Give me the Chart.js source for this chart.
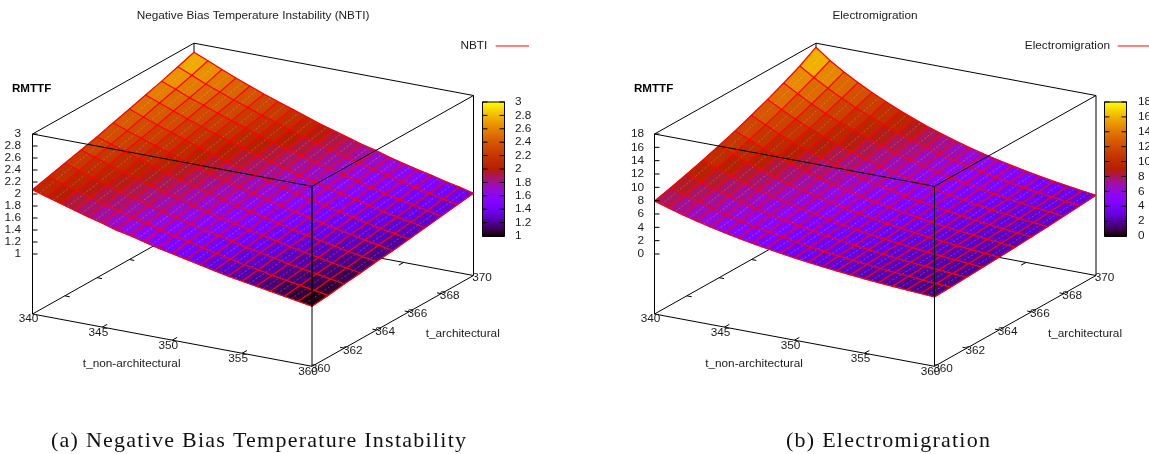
<!DOCTYPE html>
<html>
<head>
<meta charset="utf-8">
<title>RMTTF surfaces</title>
<script src="https://cdn.jsdelivr.net/npm/chart.js@4"></script>
<style>
  html, body { margin: 0; padding: 0; background: #fff; }
  canvas { display: block; }
</style>
</head>
<body>
<canvas id="chart_surfaces" width="1149" height="454"></canvas>
<script>
const tNonArch = [340,341,342,343,344,345,346,347,348,349,350,351,352,353,354,355,356,357,358,359,360];
const tArch = [360,361,362,363,364,365,366,367,368,369,370];

const nonArchTicks = [340,345,350,355,360];
const archTicks = [360,362,364,366,368,370];
const nbtiTicks = ["1","1.2","1.4","1.6","1.8","2","2.2","2.4","2.6","2.8","3"];
const emTicks = ["0","2","4","6","8","10","12","14","16","18"];

// one row per t_architectural, one column per t_non-architectural
const nbtiValues = [
  [2.07,2.00,1.93,1.86,1.79,1.73,1.66,1.61,1.55,1.49,1.44,1.39,1.34,1.29,1.24,1.20,1.16,1.12,1.08,1.04,1.00],
  [2.14,2.06,1.99,1.92,1.85,1.78,1.72,1.66,1.60,1.54,1.49,1.43,1.38,1.33,1.28,1.24,1.19,1.15,1.11,1.07,1.03],
  [2.21,2.13,2.05,1.98,1.91,1.84,1.77,1.71,1.65,1.59,1.53,1.48,1.43,1.37,1.33,1.28,1.23,1.19,1.15,1.11,1.07],
  [2.28,2.20,2.12,2.04,1.97,1.90,1.83,1.77,1.70,1.64,1.58,1.53,1.47,1.42,1.37,1.32,1.27,1.23,1.18,1.14,1.10],
  [2.35,2.27,2.19,2.11,2.03,1.96,1.89,1.82,1.76,1.69,1.63,1.58,1.52,1.47,1.41,1.36,1.31,1.27,1.22,1.18,1.14],
  [2.43,2.34,2.26,2.18,2.10,2.02,1.95,1.88,1.81,1.75,1.69,1.63,1.57,1.51,1.46,1.41,1.36,1.31,1.26,1.22,1.17],
  [2.51,2.42,2.33,2.25,2.17,2.09,2.01,1.94,1.87,1.81,1.74,1.68,1.62,1.56,1.51,1.45,1.40,1.35,1.30,1.26,1.21],
  [2.59,2.50,2.41,2.32,2.24,2.16,2.08,2.01,1.93,1.87,1.80,1.73,1.67,1.61,1.56,1.50,1.45,1.39,1.34,1.30,1.25],
  [2.67,2.58,2.48,2.40,2.31,2.23,2.15,2.07,2.00,1.93,1.86,1.79,1.73,1.67,1.61,1.55,1.49,1.44,1.39,1.34,1.29],
  [2.76,2.66,2.56,2.47,2.38,2.30,2.21,2.14,2.06,1.99,1.92,1.85,1.78,1.72,1.66,1.60,1.54,1.49,1.43,1.38,1.33],
  [2.85,2.75,2.65,2.55,2.46,2.37,2.29,2.21,2.13,2.05,1.98,1.91,1.84,1.78,1.71,1.65,1.59,1.54,1.48,1.43,1.37]
];

const emValues = [
  [7.94,7.28,6.67,6.12,5.61,5.15,4.72,4.33,3.97,3.64,3.33,3.06,2.80,2.57,2.36,2.16,1.98,1.82,1.67,1.53,1.40],
  [8.58,7.87,7.21,6.61,6.06,5.56,5.10,4.68,4.29,3.93,3.60,3.31,3.03,2.78,2.55,2.33,2.14,1.97,1.80,1.65,1.51],
  [9.27,8.50,7.79,7.15,6.55,6.01,5.51,5.06,4.63,4.25,3.89,3.57,3.27,3.00,2.76,2.52,2.31,2.12,1.95,1.79,1.63],
  [10.02,9.18,8.41,7.72,7.08,6.50,5.95,5.46,5.01,4.59,4.20,3.86,3.53,3.24,2.98,2.72,2.50,2.30,2.11,1.93,1.77],
  [10.82,9.92,9.09,8.34,7.65,7.02,6.43,5.90,5.41,4.96,4.54,4.17,3.82,3.50,3.22,2.94,2.70,2.48,2.28,2.09,1.91],
  [11.69,10.72,9.82,9.01,8.26,7.58,6.95,6.38,5.85,5.36,4.90,4.51,4.12,3.79,3.48,3.18,2.92,2.68,2.46,2.25,2.06],
  [12.64,11.59,10.61,9.74,8.93,8.20,7.51,6.89,6.32,5.79,5.30,4.87,4.46,4.09,3.76,3.44,3.15,2.90,2.66,2.43,2.23],
  [13.65,12.52,11.47,10.52,9.65,8.86,8.12,7.45,6.83,6.26,5.73,5.26,4.81,4.42,4.06,3.71,3.40,3.13,2.87,2.63,2.41],
  [14.75,13.53,12.39,11.37,10.42,9.57,8.77,8.04,7.38,6.76,6.19,5.69,5.20,4.77,4.38,4.01,3.68,3.38,3.10,2.84,2.60],
  [15.94,14.61,13.39,12.29,11.26,10.34,9.48,8.69,7.97,7.31,6.69,6.14,5.62,5.16,4.74,4.34,3.97,3.65,3.35,3.07,2.81],
  [17.40,15.80,14.47,13.28,12.17,11.18,10.24,9.40,8.61,7.90,7.23,6.64,6.08,5.58,5.12,4.69,4.30,3.95,3.62,3.32,3.04]
];

const SANS = '11.8px "Liberation Sans"';
const SANS_BOLD = 'bold 11.6px "Liberation Sans"';
const TEXT_COLOR = '#1c1c1c';

// corner positions of each gnuplot box, in canvas pixels
const panels = [
  {
    title: 'Negative Bias Temperature Instability (NBTI)', titleX: 253,
    legend: 'NBTI', legendRight: 487.3, legendLine: [495.7, 529],
    caption: '(a) Negative Bias Temperature Instability', captionX: 51,
    values: nbtiValues, ticks: nbtiTicks, zMin: 1, zMax: 3,
    a: [32.5, 314], f: [312, 366.3], r: [473.5, 275.5],
    tickRight: 21, zLabelX: 12, bar: [482.5, 504.5], barLabelX: 515,
    xTitle: [131.7, 363.3], yTitle: [462.7, 334]
  },
  {
    title: 'Electromigration', titleX: 875,
    legend: 'Electromigration', legendRight: 1110, legendLine: [1117.7, 1149],
    caption: '(b) Electromigration', captionX: 786,
    values: emValues, ticks: emTicks, zMin: 0, zMax: 18,
    a: [654.5, 314], f: [934.5, 366.3], r: [1096, 275.5],
    tickRight: 644, zLabelX: 634, bar: [1104.5, 1126.5], barLabelX: 1138,
    xTitle: [754, 363.3], yTitle: [1085, 334]
  }
];

const BOX_LIFT = 60;
const BOX_HEIGHT = 120;
const BAR_TOP = 102;
const BAR_BOTTOM = 236;

function project(panel, x, y, z){
  const t = (x - 340) / 20;
  const s = (y - 360) / 10;
  const px = panel.a[0] + t * (panel.f[0] - panel.a[0]) + s * (panel.r[0] - panel.f[0]);
  const py = panel.a[1] + t * (panel.f[1] - panel.a[1]) + s * (panel.r[1] - panel.f[1]);
  const rise = BOX_LIFT + (z - panel.zMin) / (panel.zMax - panel.zMin) * BOX_HEIGHT;
  return {x: px, y: py - rise};
}

function base(panel, x, y){
  const p = project(panel, x, y, panel.zMin);
  return {x: p.x, y: p.y + BOX_LIFT};
}

// gnuplot default pm3d palette, rgbformulae 7,5,15
function palette(gray){
  const g = Math.max(0, Math.min(1, gray));
  const r = Math.round(255 * Math.sqrt(g));
  const gr = Math.round(255 * g * g * g);
  const b = Math.round(255 * Math.max(0, Math.sin(2 * Math.PI * g)));
  return "rgb(" + r + "," + gr + "," + b + ")";
}

function lineSet(points, color, width, dash){
  return {
    data: points,
    showLine: true,
    borderColor: color,
    borderWidth: width === undefined ? 1 : width,
    borderDash: dash || [],
    pointRadius: 0,
    tension: 0,
    fill: false
  };
}

function polySet(points, color){
  return {
    data: points.concat([points[0]]),
    showLine: true,
    borderWidth: 0.6,
    borderColor: color,
    backgroundColor: color,
    pointRadius: 0,
    tension: 0,
    fill: 'shape'
  };
}

function panelSets(panel){
  const sets = [];
  const grid = panel.values;
  const black = '#000000';
  const wire = '#ff0000';
  const baseA = base(panel, 340, 360);
  const baseB = base(panel, 340, 370);
  const baseF = base(panel, 360, 360);
  const baseR = base(panel, 360, 370);
  const up = (p) => ({x: p.x, y: p.y - BOX_LIFT - BOX_HEIGHT});

  // back of the box, the surface hides most of it
  sets.push(lineSet([baseA, baseB, baseR], black));
  sets.push(lineSet([baseB, up(baseB)], black));
  sets.push(lineSet([baseR, up(baseR)], black));

  // mirror tics on the back edges
  archTicks.slice(1, -1).forEach((t) => {
    sets.push(lineSet([base(panel, 340, t), base(panel, 340.35, t)], black));
  });
  nonArchTicks.slice(1, -1).forEach((t) => {
    sets.push(lineSet([base(panel, t, 370), base(panel, t, 369.7)], black));
  });

  // surface cells
  for(let j = tArch.length - 2; j >= 0; j--){
    for(let i = 0; i < tNonArch.length - 1; i++){
      const z00 = grid[j][i], z10 = grid[j][i + 1];
      const z01 = grid[j + 1][i], z11 = grid[j + 1][i + 1];
      const mean = (z00 + z10 + z01 + z11) / 4;
      sets.push(polySet([
        project(panel, tNonArch[i], tArch[j], z00),
        project(panel, tNonArch[i + 1], tArch[j], z10),
        project(panel, tNonArch[i + 1], tArch[j + 1], z11),
        project(panel, tNonArch[i], tArch[j + 1], z01)
      ], palette((mean - panel.zMin) / (panel.zMax - panel.zMin))));
    }
  }

  // the pale seam the png shows in the middle of each column
  for(let i = 0; i < tNonArch.length - 1; i++){
    const seam = tArch.map((y, j) => project(panel, (tNonArch[i] + tNonArch[i + 1]) / 2, y, (grid[j][i] + grid[j][i + 1]) / 2));
    sets.push(lineSet(seam, 'rgba(255,225,225,0.35)', 0.8, [2, 2]));
  }

  // red wire lines
  tArch.forEach((y, j) => {
    sets.push(lineSet(tNonArch.map((x, i) => project(panel, x, y, grid[j][i])), wire, 1.2));
  });
  tNonArch.forEach((x, i) => {
    sets.push(lineSet(tArch.map((y, j) => project(panel, x, y, grid[j][i])), wire, 1.2));
  });

  // front of the box, the part over the surface gets stroked twice
  sets.push(lineSet([baseA, baseF, baseR], black));
  sets.push(lineSet([baseA, up(baseA)], black));
  sets.push(lineSet([baseF, up(baseF)], black));
  sets.push(lineSet([project(panel, 360, 360, grid[0][20]), up(baseF)], black));
  sets.push(lineSet([up(baseA), up(baseB), up(baseR), up(baseF), up(baseA)], black));

  nonArchTicks.slice(1, -1).forEach((t) => {
    sets.push(lineSet([base(panel, t, 360), base(panel, t, 360.3)], black));
  });
  archTicks.slice(1, -1).forEach((t) => {
    sets.push(lineSet([base(panel, 360, t), base(panel, 359.7, t)], black));
  });
  panel.ticks.forEach((text) => {
    const p = project(panel, 340, 360, parseFloat(text));
    sets.push(lineSet([p, {x: p.x + 5, y: p.y}], black));
  });

  // key sample
  sets.push(lineSet([{x: panel.legendLine[0], y: 46}, {x: panel.legendLine[1], y: 46}], wire));
  return sets;
}

function label(ctx, text, x, y, align, font, color){
  ctx.font = font || SANS;
  ctx.fillStyle = color || TEXT_COLOR;
  ctx.textAlign = align || 'center';
  ctx.textBaseline = 'middle';
  ctx.fillText(text, x, y);
}

const panelText = {
  id: 'panelText',
  afterDatasetsDraw(chart){
    const ctx = chart.ctx;
    const sx = chart.scales.x;
    const sy = chart.scales.y;
    ctx.save();
    panels.forEach((panel) => {
      label(ctx, panel.title, sx.getPixelForValue(panel.titleX), sy.getPixelForValue(16));
      label(ctx, panel.legend, sx.getPixelForValue(panel.legendRight), sy.getPixelForValue(46), 'right');
      label(ctx, 'RMTTF', sx.getPixelForValue(panel.zLabelX), sy.getPixelForValue(89), 'left', SANS_BOLD, '#000');
      label(ctx, 't_non-architectural', sx.getPixelForValue(panel.xTitle[0]), sy.getPixelForValue(panel.xTitle[1]));
      label(ctx, 't_architectural', sx.getPixelForValue(panel.yTitle[0]), sy.getPixelForValue(panel.yTitle[1]));

      panel.ticks.forEach((text) => {
        const p = project(panel, 340, 360, parseFloat(text));
        label(ctx, text, sx.getPixelForValue(panel.tickRight), sy.getPixelForValue(p.y), 'right');
      });
      nonArchTicks.forEach((t) => {
        const p = base(panel, t, 360);
        label(ctx, String(t), sx.getPixelForValue(p.x - 4), sy.getPixelForValue(p.y + 5.2));
      });
      archTicks.forEach((t) => {
        const p = base(panel, 360, t);
        label(ctx, String(t), sx.getPixelForValue(p.x + 8.5), sy.getPixelForValue(p.y + 2.2));
      });

      // colour box
      const left = sx.getPixelForValue(panel.bar[0]);
      const right = sx.getPixelForValue(panel.bar[1]);
      const top = sy.getPixelForValue(BAR_TOP);
      const bottom = sy.getPixelForValue(BAR_BOTTOM);
      for(let py = top; py < bottom; py++){
        ctx.fillStyle = palette((bottom - py - 0.5) / (bottom - top));
        ctx.fillRect(left, py, right - left, 1);
      }
      ctx.strokeStyle = '#000';
      ctx.lineWidth = 1;
      ctx.strokeRect(left, top, right - left, bottom - top);
      panel.ticks.forEach((text) => {
        const share = (parseFloat(text) - panel.zMin) / (panel.zMax - panel.zMin);
        const py = bottom - share * (bottom - top);
        ctx.strokeStyle = '#000';
        ctx.beginPath();
        ctx.moveTo(left, py); ctx.lineTo(left + 5, py);
        ctx.moveTo(right - 5, py); ctx.lineTo(right, py);
        ctx.stroke();
        label(ctx, text, sx.getPixelForValue(panel.barLabelX), py, 'left');
      });

      // caption of the sub figure
      ctx.letterSpacing = '1.25px';
      label(ctx, panel.caption, sx.getPixelForValue(panel.captionX), sy.getPixelForValue(441), 'left', '22px "Liberation Serif"', '#111');
      ctx.letterSpacing = '0px';
    });
    ctx.restore();
  }
};

const sets = panelSets(panels[0]).concat(panelSets(panels[1]));
// chart.js paints the highest order first, keep the painter order of the list
sets.forEach((set, i) => { set.order = -i; });

new Chart(document.getElementById('chart_surfaces'), {
  type: 'scatter',
  data: {datasets: sets},
  options: {
    responsive: false,
    animation: false,
    events: [],
    layout: {padding: 0},
    scales: {
      x: {type: 'linear', display: false, min: 0, max: 1149},
      y: {type: 'linear', display: false, min: 0, max: 454, reverse: true}
    },
    plugins: {
      legend: {display: false},
      tooltip: {enabled: false},
      title: {display: false}
    }
  },
  plugins: [panelText]
});
</script>
</body>
</html>
